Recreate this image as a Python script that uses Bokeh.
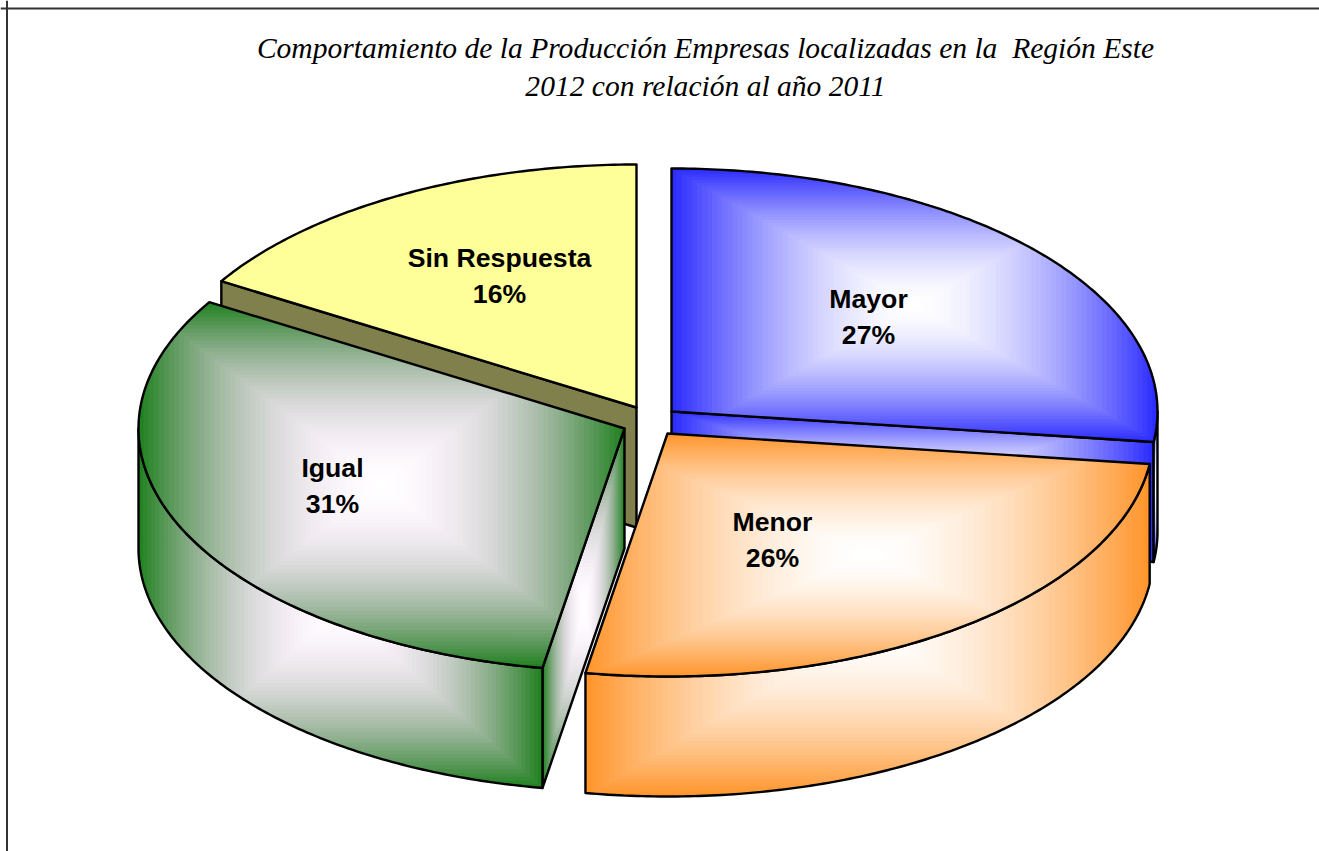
import numpy as np
from bokeh.plotting import figure
from bokeh.models import Range1d, Span
from bokeh.core.properties import value
from bokeh.embed import file_html
from bokeh.resources import INLINE

# data
categories = ["Mayor", "Menor", "Igual", "Sin Respuesta"]
shares = [27.0, 25.7, 31.0, 16.3]
title_lines = ["Comportamiento de la Producción Empresas localizadas en la \u00a0Región Este",
               "2012 con relación al año 2011"]

# style / layout
base_colors = [(45, 45, 255), (255, 150, 45), (34, 130, 34), (255, 255, 153)]
ramp_exp = [(1.7, 1.7, 1), (1, 1.7, 1.7), (2.2, 1.5, 2.2), (1, 1, 1)]
side_flat = (128, 128, 77)
centers = [(671, 411), (667, 433), (624, 428), (636, 407)]
label_pos = [(868, 298), (772, 521), (332, 467), (499, 257)]
label_gap = 36
RX, RY, DEPTH = 486, 243, 120
LEVELS = 48

W, H = 1319, 851
p = figure(width=W, height=H, x_range=Range1d(0, W), y_range=Range1d(H, 0),
           output_backend="svg", toolbar_location=None, min_border=0,
           outline_line_color=None, background_fill_color="white", border_fill_color="white")
p.axis.visible = False
p.grid.visible = False
p.add_layout(Span(location=6.5, dimension="height", line_color="#333333", line_width=2))
p.add_layout(Span(location=8, dimension="width", line_color="#333333", line_width=2))


def arc(c, a0, a1, dy=0.0):
    n = max(2, int(abs(a1 - a0) * 1.5))
    th = np.radians(np.linspace(a0, a1, n))
    return np.column_stack([c[0] + RX * np.sin(th), c[1] - RY * np.cos(th) + dy])


def clip_rect(poly, x0, x1, y0, y1):
    def clip(pts, axis, bound, keep_less):
        out = []
        m = len(pts)
        for i in range(m):
            a, b = pts[i], pts[(i + 1) % m]
            ina = a[axis] <= bound if keep_less else a[axis] >= bound
            inb = b[axis] <= bound if keep_less else b[axis] >= bound
            if ina:
                out.append(a)
            if ina != inb:
                s = (bound - a[axis]) / (b[axis] - a[axis])
                out.append(a + s * (b - a))
        return out
    pts = list(poly)
    for axis, bound, less in [(0, x0, False), (0, x1, True), (1, y0, False), (1, y1, True)]:
        if not pts:
            return None
        pts = clip(pts, axis, bound, less)
    return np.array(pts) if len(pts) > 2 else None


def hexc(c):
    return "#%02x%02x%02x" % tuple(int(round(v)) for v in c)


def surface(poly, color, exps=None):
    if exps is not None:
        mn, mx = poly.min(axis=0), poly.max(axis=0)
        mid, half = (mn + mx) / 2, (mx - mn) / 2
        xs, ys, cs = [], [], []
        for k in range(LEVELS, 0, -1):
            t = k / LEVELS
            q = clip_rect(poly, mid[0] - t * half[0], mid[0] + t * half[0],
                          mid[1] - t * half[1], mid[1] + t * half[1])
            if q is None:
                continue
            xs.append(q[:, 0].tolist())
            ys.append(q[:, 1].tolist())
            cs.append(hexc([255 + (v - 255) * t ** e for v, e in zip(color, exps)]))
        p.patches(xs, ys, fill_color=cs, line_color=None)
        p.patch(poly[:, 0], poly[:, 1], fill_color=None, fill_alpha=0,
                line_color="black", line_width=2.4, line_join="round")
    else:
        p.patch(poly[:, 0], poly[:, 1], fill_color=hexc(color),
                line_color="black", line_width=2.4, line_join="round")


edges = np.concatenate([[0], np.cumsum(shares)]) / np.sum(shares) * 360


def top_poly(i):
    return np.vstack([[centers[i]], arc(centers[i], edges[i], edges[i + 1])])


def radial_wall(c, ang):
    e = arc(c, ang, ang + 1e-6)[0]
    return np.array([c, e, e + [0, DEPTH], np.array(c) + [0, DEPTH]], dtype=float)


def outer_wall(c, a0, a1):
    return np.vstack([arc(c, a0, a1), arc(c, a1, a0, DEPTH)])


MAYOR, MENOR, IGUAL, SIN = 0, 1, 2, 3

# back-to-front
surface(radial_wall(centers[SIN], edges[SIN]), side_flat)
surface(top_poly(SIN), base_colors[SIN])

surface(radial_wall(centers[MAYOR], edges[MAYOR + 1]), base_colors[MAYOR], ramp_exp[MAYOR])
surface(outer_wall(centers[MAYOR], 90, edges[MAYOR + 1]), base_colors[MAYOR], ramp_exp[MAYOR])
surface(top_poly(MAYOR), base_colors[MAYOR], ramp_exp[MAYOR])

surface(radial_wall(centers[IGUAL], edges[IGUAL]), base_colors[IGUAL], ramp_exp[IGUAL])
surface(outer_wall(centers[IGUAL], edges[IGUAL], 270), base_colors[IGUAL], ramp_exp[IGUAL])
surface(top_poly(IGUAL), base_colors[IGUAL], ramp_exp[IGUAL])

surface(outer_wall(centers[MENOR], edges[MENOR], edges[MENOR + 1]), base_colors[MENOR], ramp_exp[MENOR])
surface(top_poly(MENOR), base_colors[MENOR], ramp_exp[MENOR])

# texts
p.text([705, 705], [47, 85], text=title_lines, text_font=value("Liberation Serif"),
       text_font_style="italic", text_font_size="29.55px", text_align="center",
       text_baseline="middle", text_color="black")
lx = [c[0] for c in label_pos]
ly = [c[1] for c in label_pos]
p.text(lx, ly, text=categories, text_font=value("Liberation Sans"), text_font_style="bold",
       text_font_size="26.67px", text_align="center", text_baseline="middle", text_color="black")
p.text(lx, [y + label_gap for y in ly], text=[f"{round(v)}%" for v in shares],
       text_font=value("Liberation Sans"), text_font_style="bold",
       text_font_size="26.67px", text_align="center", text_baseline="middle", text_color="black")

open("out.html", "w").write(file_html(p, INLINE))
